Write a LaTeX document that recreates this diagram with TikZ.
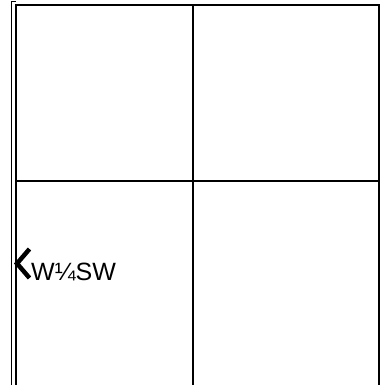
\documentclass[tikz,border=0pt]{standalone}
\usepackage{fontspec}
\setmainfont{Liberation Sans}
\begin{document}
\begin{tikzpicture}[x=1pt,y=-1pt,
  thickline/.style={line width=2pt},
  thinline/.style={line width=0.9pt},
  lbl/.style={font=\fontsize{25}{28}\selectfont, inner sep=0pt, anchor=base west}]
\useasboundingbox (0,0) rectangle (380,385);
\fill[white] (0,0) rectangle (380,385);
% thin outer line
\draw[thinline] (11.5,385) -- (11.5,1.7) -- (16,1.7);
% grid
\draw[thickline] (16,385) -- (16,5) -- (378.7,5) -- (378.7,385);
\draw[thickline] (192.7,5) -- (192.7,385);
\draw[thickline] (16,181) -- (378.7,181);
% chevron and label
\draw[line width=4.5pt, miter limit=10] (29.5,249) -- (17,263.5) -- (29.5,278);
\node[lbl] (t) at (31,280) {W¼SW};
\end{tikzpicture}
\end{document}
